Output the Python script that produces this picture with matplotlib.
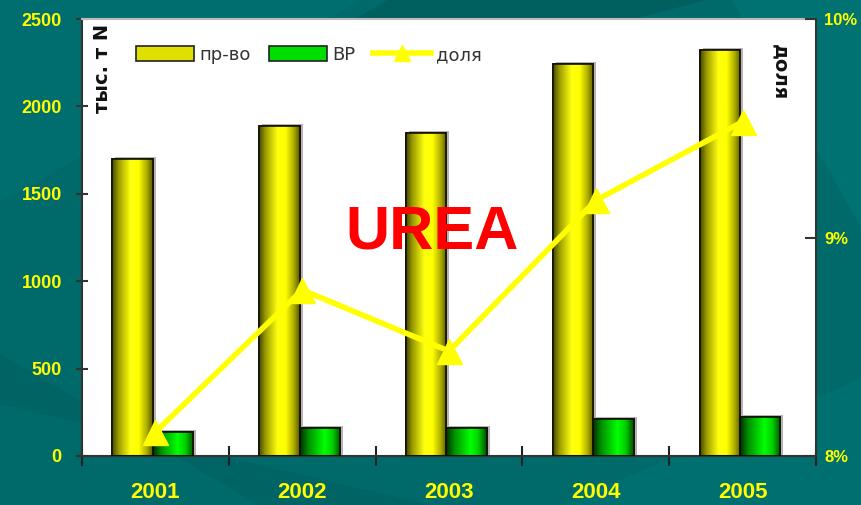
import matplotlib
matplotlib.use("Agg")
import matplotlib.pyplot as plt
import numpy as np
from matplotlib.patches import Polygon, Patch
from matplotlib.lines import Line2D
from matplotlib.colors import LinearSegmentedColormap

years = ["2001", "2002", "2003", "2004", "2005"]
production = [1700, 1890, 1850, 2240, 2320]   # пр-во, тыс. т N
vr = [138, 160, 160, 212, 224]                # ВР
share = [8.11, 8.76, 8.48, 9.17, 9.53]        # доля, %

fig = plt.figure(figsize=(8.61, 5.05), dpi=100)
fig.patch.set_facecolor("#006a6a")

# diagonal background texture
bg = fig.add_axes([0, 0, 1, 1], zorder=-10)
bg.set_xlim(0, 1); bg.set_ylim(0, 1); bg.axis("off")
bands = [
    ([(0.0, 1.0), (0.42, 1.0), (0.0, 0.60)], "#006e6e"),
    ([(0.45, 1.0), (0.82, 1.0), (0.60, 0.90), (0.35, 0.90)], "#006060"),
    ([(0.85, 1.0), (1.0, 1.0), (1.0, 0.55)], "#007272"),
    ([(0.0, 0.30), (0.30, 0.0), (0.50, 0.0), (0.0, 0.20)], "#006464"),
    ([(0.65, 0.0), (1.0, 0.0), (1.0, 0.25)], "#006f6f"),
]
for pts, c in bands:
    bg.add_patch(Polygon(pts, closed=True, facecolor=c, edgecolor="none"))

tick_font = dict(family="Liberation Sans", weight="bold")

ax = fig.add_axes([82/861, 1-456/505, (816-82)/861, (456-19)/505])
ax.set_facecolor("white")
x = np.arange(len(years))
w = 0.275
# soft gray shadows
ax.bar(x - 0.155 + 0.02, [v + 12 for v in production], w, color="#b8b0bc", edgecolor="none", zorder=1.5)
ax.bar(x + 0.12 + 0.02, [v + 12 for v in vr], w, color="#b8b0bc", edgecolor="none", zorder=1.5)
b1 = ax.bar(x - 0.155, production, w, color="#ffff00", edgecolor="#1a1a00", linewidth=1.2, zorder=2)
b2 = ax.bar(x + 0.12, vr, w, color="#00ee00", edgecolor="#001a00", linewidth=1.2, zorder=2)

ycm = LinearSegmentedColormap.from_list("y", [(0, "#4a4a00"), (0.15, "#9a9a00"), (0.45, "#ffff10"),
                                              (0.65, "#ffff00"), (0.85, "#b0b000"), (1, "#5a5a00")])
gcm = LinearSegmentedColormap.from_list("g", [(0, "#003000"), (0.2, "#009000"), (0.6, "#00ff00"),
                                              (0.8, "#00d000"), (1, "#005000")])
grad = np.linspace(0, 1, 64).reshape(1, -1)
for bars, cm in ((b1, ycm), (b2, gcm)):
    for p in bars:
        bx, bw, bh = p.get_x(), p.get_width(), p.get_height()
        im = ax.imshow(grad, cmap=cm, extent=[bx, bx + bw, 0, bh], aspect="auto", zorder=2.5)
        im.set_clip_path(p)
        ax.bar(bx + bw/2, bh, bw, fill=False, edgecolor="#111100", linewidth=1.2, zorder=3)

ax.set_xlim(-0.5, 4.5)
ax.set_ylim(0, 2500)
ax.set_yticks([0, 500, 1000, 1500, 2000, 2500])
ax.tick_params(axis="y", direction="inout", length=9, width=1.5, color="#333333",
               labelcolor="#ffff00", labelsize=13, pad=10)
for t in ax.get_yticklabels():
    t.set(**tick_font)
ax.set_xticks(np.arange(-0.5, 5.0, 1.0))
ax.set_xticklabels([])
ax.set_xticks(x, minor=True)
ax.set_xticklabels(years, minor=True)
ax.tick_params(axis="x", which="major", direction="inout", length=15, width=1.5, color="#222222")
ax.tick_params(axis="x", which="minor", length=0, labelcolor="#ffff00", labelsize=16, pad=19)
for t in ax.get_xticklabels(minor=True):
    t.set(**tick_font)
for s in ("left", "bottom"):
    ax.spines[s].set_color("#333333"); ax.spines[s].set_linewidth(1.5)
ax.spines["top"].set_color("#bbbbbb"); ax.spines["top"].set_linewidth(1.5)
ax.spines["right"].set_visible(False)

ax2 = ax.twinx()
ax2.set_ylim(8, 10)
ax2.set_yticks([8, 9, 10])
ax2.set_yticklabels(["8%", "9%", "10%"])
ax2.tick_params(axis="y", direction="in", length=8, width=1.5, color="#333333",
                labelcolor="#ffff00", labelsize=12, pad=6)
for t in ax2.get_yticklabels():
    t.set(**tick_font)
for s in ("left", "top", "bottom"):
    ax2.spines[s].set_visible(False)
ax2.spines["right"].set_color("#333333"); ax2.spines["right"].set_linewidth(1.5)
ax2.plot(x, share, color="#ffff00", linewidth=4, marker="^", markersize=18, zorder=5)

handles = [Patch(facecolor="#e0e000", edgecolor="#222222", linewidth=1.2),
           Patch(facecolor="#00dd00", edgecolor="#222222", linewidth=1.2),
           Line2D([0], [0], color="#ffff00", linewidth=4, marker="^", markersize=12)]
fig.legend(handles, ["пр-во", "ВР", "доля"], loc="center left", bbox_to_anchor=(120/861, 1-55/505),
           ncol=3, frameon=False, fontsize=13, handlelength=3.2, handleheight=0.9,
           columnspacing=1.0, handletextpad=0.3, labelcolor="#333333")

fig.text(103/861, 1-24/505, "тыс. т N", rotation=90, ha="center", va="top",
         fontsize=14, fontweight="bold", color="#111111")
fig.text(780/861, 1-44/505, "доля", rotation=270, ha="center", va="top",
         fontsize=14, fontweight="bold", color="#111111")
fig.text(432/861, 1-233/505, "UREA", ha="center", va="center", fontsize=44,
         fontweight="bold", color="#ff0000", family="Liberation Sans", zorder=10)

fig.savefig("out.png", dpi=100, facecolor=fig.get_facecolor())
